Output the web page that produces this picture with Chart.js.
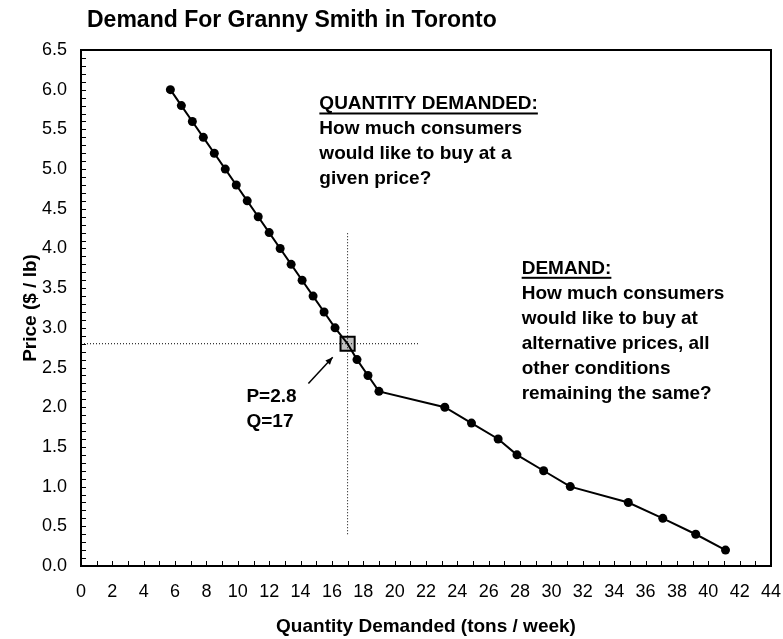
<!DOCTYPE html>
<html>
<head>
<meta charset="utf-8">
<script src="https://cdn.jsdelivr.net/npm/chart.js@4.4.1/dist/chart.umd.min.js"></script>
<style>
  html, body { margin: 0; padding: 0; background: #fff; }
  #chart { display: block; }
</style>
</head>
<body>
<canvas id="chart" width="783" height="639"></canvas>
<script>
// demand schedule
const quantity = [5.7, 6.4, 7.1, 7.8, 8.5, 9.2, 9.9, 10.6, 11.3, 12.0, 12.7, 13.4, 14.1, 14.8, 15.5, 16.2, 17,
	17.6, 18.3, 19.0, 23.2, 24.9, 26.6, 27.8, 29.5, 31.2, 34.9, 37.1, 39.2, 41.1];
const price = [6.0, 5.8, 5.6, 5.4, 5.2, 5.0, 4.8, 4.6, 4.4, 4.2, 4.0, 3.8, 3.6, 3.4, 3.2, 3.0, 2.8,
	2.6, 2.4, 2.2, 2.0, 1.8, 1.6, 1.4, 1.2, 1.0, 0.8, 0.6, 0.4, 0.2];

const eqQ = 17;
const eqP = 2.8;

// dotted guide lines through the point (17, 2.8)
const guideHx = [0, 21.6];
const guideVy = [0.4, 4.2];

// arrow pointing at the point, from / to
const arrowFrom = [14.5, 2.3];
const arrowTo = [16.05, 2.63];

const xMax = 44;
const yMax = 6.5;

const titleText = "Demand For Granny Smith in Toronto";
const xTitle = "Quantity Demanded (tons / week)";
const yTitle = "Price ($ / lb)";

const noteQD = ["How much consumers", "would like to buy at a", "given price?"];
const noteD = ["How much consumers", "would like to buy at", "alternative prices, all", "other conditions", "remaining the same?"];

const family = "'Liberation Sans', Arial, sans-serif";
const boldFont = "bold 19px " + family;
const lineGap = 25;

function drawTicks(chart) {
	const ctx = chart.ctx;
	const xs = chart.scales.x;
	const ys = chart.scales.y;
	const a = chart.chartArea;
	ctx.save();
	ctx.strokeStyle = "#000";
	ctx.lineWidth = 1;
	ctx.beginPath();
	for (let v = 1; v < xMax; v++) {
		let px = Math.round(xs.getPixelForValue(v)) + 0.5;
		ctx.moveTo(px, a.bottom);
		ctx.lineTo(px, a.bottom - 5);
	}
	for (let i = 1; i < yMax * 10; i++) {
		let py = Math.round(ys.getPixelForValue(i / 10)) + 0.5;
		ctx.moveTo(a.left, py);
		ctx.lineTo(a.left + 5, py);
	}
	ctx.stroke();
	ctx.lineWidth = 2;
	ctx.strokeRect(a.left, a.top, a.right - a.left, a.bottom - a.top);
	ctx.restore();
}

function drawNote(ctx, head, lines, x, y) {
	ctx.fillText(head, x, y);
	let w = ctx.measureText(head).width;
	ctx.fillRect(x, y + 8.5, w, 2);
	lines.forEach((t, i) => ctx.fillText(t, x, y + lineGap * (i + 1)));
}

const extras = {
	id: "extras",
	afterDraw(chart) {
		const ctx = chart.ctx;
		const xs = chart.scales.x;
		const ys = chart.scales.y;
		drawTicks(chart);

		ctx.save();
		ctx.fillStyle = "#000";
		ctx.textBaseline = "middle";
		ctx.font = "bold 23px " + family;
		ctx.fillText(titleText, 87, 21);

		ctx.font = boldFont;
		drawNote(ctx, "QUANTITY DEMANDED:", noteQD, xs.getPixelForValue(15.2), ys.getPixelForValue(5.82));
		drawNote(ctx, "DEMAND:", noteD, xs.getPixelForValue(28.1), ys.getPixelForValue(3.75));
		ctx.fillText("P=" + eqP, xs.getPixelForValue(10.55), ys.getPixelForValue(2.13));
		ctx.fillText("Q=" + eqQ, xs.getPixelForValue(10.55), ys.getPixelForValue(2.13) + lineGap);

		// arrow
		let x1 = xs.getPixelForValue(arrowFrom[0]), y1 = ys.getPixelForValue(arrowFrom[1]);
		let x2 = xs.getPixelForValue(arrowTo[0]), y2 = ys.getPixelForValue(arrowTo[1]);
		let ang = Math.atan2(y2 - y1, x2 - x1);
		ctx.strokeStyle = "#000";
		ctx.lineWidth = 1.5;
		ctx.beginPath();
		ctx.moveTo(x1, y1);
		ctx.lineTo(x2, y2);
		ctx.stroke();
		ctx.beginPath();
		ctx.moveTo(x2, y2);
		ctx.lineTo(x2 - 8 * Math.cos(ang - 0.4), y2 - 8 * Math.sin(ang - 0.4));
		ctx.lineTo(x2 - 8 * Math.cos(ang + 0.4), y2 - 8 * Math.sin(ang + 0.4));
		ctx.closePath();
		ctx.fill();
		ctx.restore();
	},
};

let demandPts = quantity.map((q, i) => ({ x: q, y: price[i] }));

const config = {
	type: "scatter",
	data: {
		datasets: [
			{
				label: "guideH",
				data: guideHx.map((x) => ({ x: x, y: eqP })),
				showLine: true,
				borderColor: "#000",
				borderWidth: 1,
				borderDash: [1, 2],
				pointRadius: 0,
			},
			{
				label: "guideV",
				data: guideVy.map((y) => ({ x: eqQ, y: y })),
				showLine: true,
				borderColor: "#000",
				borderWidth: 1,
				borderDash: [1, 2],
				pointRadius: 0,
			},
			{
				label: "Demand",
				data: demandPts,
				showLine: true,
				borderColor: "#000",
				borderWidth: 2,
				pointRadius: quantity.map((q) => (q === eqQ ? 0 : 4.5)),
				pointBackgroundColor: "#000",
				pointBorderWidth: 0,
			},
			{
				label: "Equilibrium",
				data: [{ x: eqQ, y: eqP }],
				pointStyle: "rect",
				pointRadius: 10,
				pointBackgroundColor: "#c0c0c0",
				pointBorderColor: "#000",
				pointBorderWidth: 2,
			},
		],
	},
	options: {
		responsive: false,
		animation: false,
		devicePixelRatio: 1,
		layout: { padding: { top: 50, right: 11, left: 0, bottom: 0 } },
		plugins: {
			legend: { display: false },
			tooltip: { enabled: false },
			title: { display: false },
		},
		scales: {
			x: {
				type: "linear",
				min: 0,
				max: xMax,
				grid: { display: false, drawTicks: false },
				border: { display: false },
				ticks: {
					stepSize: 2,
					color: "#000",
					padding: 15,
					maxRotation: 0,
					autoSkip: false,
					font: { family: family, size: 18 },
				},
				title: {
					display: true,
					text: xTitle,
					color: "#000",
					padding: { top: 0, bottom: 1 },
					font: { family: family, size: 19, weight: "bold" },
				},
				afterFit(scale) {
					scale.height = 73;
					scale.paddingLeft = 0;
					scale.paddingRight = 0;
				},
			},
			y: {
				type: "linear",
				min: 0,
				max: yMax,
				grid: { display: false, drawTicks: false },
				border: { display: false },
				ticks: {
					stepSize: 0.5,
					color: "#000",
					padding: 14,
					callback: (v) => v.toFixed(1),
					font: { family: family, size: 18 },
				},
				title: {
					display: true,
					text: yTitle,
					color: "#000",
					padding: { top: 19, bottom: 0 },
					font: { family: family, size: 19, weight: "bold" },
				},
				afterFit(scale) {
					scale.width = 81;
					scale.paddingTop = 0;
					scale.paddingBottom = 0;
				},
			},
		},
	},
	plugins: [extras],
};

const chart = new Chart(document.getElementById("chart"), config);
</script>
</body>
</html>
